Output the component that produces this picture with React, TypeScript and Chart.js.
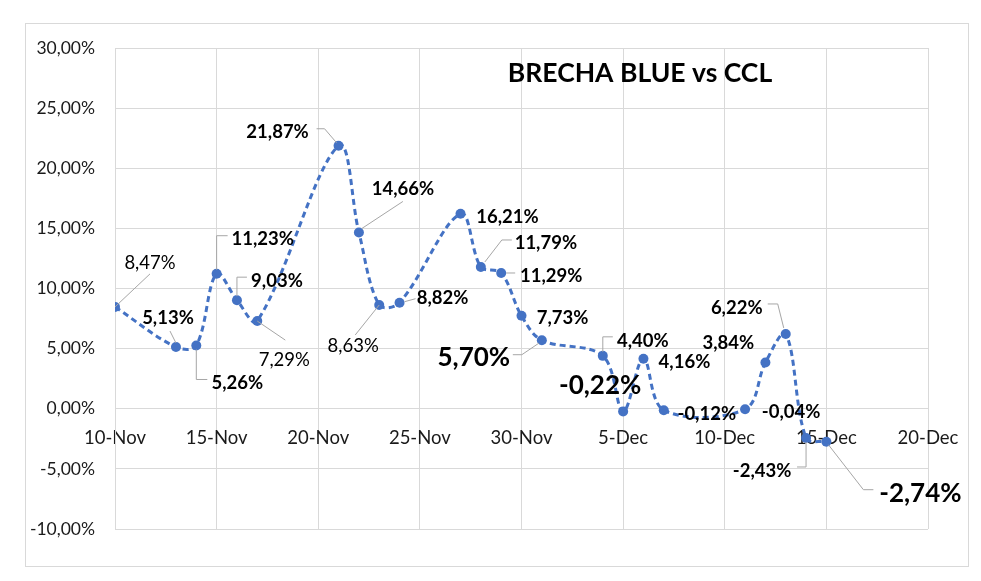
import React, { useEffect, useRef } from 'react';
import { Chart, registerables } from 'chart.js';

Chart.register(...registerables);

// ---- data ----
const dates = [
  '2022-11-10', '2022-11-13', '2022-11-14', '2022-11-15', '2022-11-16', '2022-11-17',
  '2022-11-21', '2022-11-22', '2022-11-23', '2022-11-24', '2022-11-27', '2022-11-28',
  '2022-11-29', '2022-11-30', '2022-12-01', '2022-12-04', '2022-12-05', '2022-12-06',
  '2022-12-07', '2022-12-11', '2022-12-12', '2022-12-13', '2022-12-14', '2022-12-15',
];
const brecha = [
  8.47, 5.13, 5.26, 11.23, 9.03, 7.29,
  21.87, 14.66, 8.63, 8.82, 16.21, 11.79,
  11.29, 7.73, 5.70, 4.40, -0.22, 4.16,
  -0.12, -0.04, 3.84, 6.22, -2.43, -2.74,
];
const xTickLabels = ['10-Nov', '15-Nov', '20-Nov', '25-Nov', '30-Nov', '5-Dec', '10-Dec', '15-Dec', '20-Dec'];
const yMin = -10;
const yMax = 30;
const yStep = 5;
const xStep = 5;
const chartTitle = 'BRECHA BLUE vs CCL';

// label placement (offset of label centre from its point, weight, leader polyline relative to point)
type LabelSpec = { dx: number; dy: number; kind: 'n' | 'b' | 'B'; leader?: number[][] };
const labelLayout: LabelSpec[] = [
  { dx: 35, dy: -45, kind: 'n', leader: [[0, 0], [35, -33]] },
  { dx: -8, dy: -30, kind: 'b', leader: [[0, -4], [-6, -16]] },
  { dx: 41, dy: 37, kind: 'b', leader: [[0, 4], [0, 34], [11, 34]] },
  { dx: 46, dy: -35, kind: 'b', leader: [[0, -4], [0, -38], [11, -38]] },
  { dx: 40, dy: -20, kind: 'b', leader: [[0, -4], [0, -23], [10, -23]] },
  { dx: 27, dy: 38, kind: 'n', leader: [[0, 0], [28, 19]] },
  { dx: -61, dy: -14, kind: 'b', leader: [[-2, -3], [-14, -17], [-22, -17]] },
  { dx: 44, dy: -44, kind: 'b', leader: [[3, -4], [44, -31]] },
  { dx: -26, dy: 40, kind: 'n', leader: [[0, 0], [-24, 30]] },
  { dx: 43, dy: -5, kind: 'b', leader: [[5, -1], [16, -4]] },
  { dx: 47, dy: 3, kind: 'b' },
  { dx: 65, dy: -25, kind: 'b', leader: [[4, -5], [21, -27], [31, -27]] },
  { dx: 50, dy: 2, kind: 'b', leader: [[5, 0], [14, 0]] },
  { dx: 41, dy: 2, kind: 'b' },
  { dx: -68, dy: 16, kind: 'B', leader: [[-3, 3], [-20, 14.5], [-29, 14.5]] },
  { dx: 40, dy: -16, kind: 'b', leader: [[0, -4], [0, -19], [10, -19]] },
  { dx: -23, dy: -27, kind: 'B' },
  { dx: 41, dy: 3, kind: 'b' },
  { dx: 43, dy: 3, kind: 'b' },
  { dx: 46, dy: 2, kind: 'b' },
  { dx: -37, dy: -20, kind: 'b' },
  { dx: -49, dy: -27, kind: 'b', leader: [[-2, -6], [-8, -30], [-18, -30]] },
  { dx: -44, dy: 32, kind: 'b', leader: [[0, 4], [0, 29], [-9, 29]] },
  { dx: 94, dy: 51, kind: 'B', leader: [[2, 3], [37, 48], [47, 48]] },
];

const FONT = 'Lato, "Open Sans", sans-serif';
const fmtPct = (v: number) => v.toFixed(2).replace('.', ',') + '%';
const dayOffset = (d: string) => Math.round((Date.parse(d) - Date.parse(dates[0])) / 86400000);

const framePlugin = {
  id: 'frame',
  beforeDraw(chart: any) {
    const ctx = chart.ctx;
    ctx.save();
    ctx.fillStyle = '#ffffff';
    ctx.fillRect(0, 0, chart.width, chart.height);
    ctx.strokeStyle = '#d9d9d9';
    ctx.lineWidth = 1;
    ctx.strokeRect(25.5, 23.5, 943, 543);
    ctx.restore();
  },
};

const labelsPlugin = {
  id: 'pointLabels',
  afterDatasetsDraw(chart: any) {
    const ctx = chart.ctx;
    const meta = chart.getDatasetMeta(0);
    ctx.save();
    meta.data.forEach((pt: any, i: number) => {
      const L = labelLayout[i];
      if (!L) return;
      const x = pt.x;
      const y = pt.y;
      if (L.leader) {
        ctx.beginPath();
        L.leader.forEach(([lx, ly], j) => {
          if (j === 0) ctx.moveTo(x + lx, y + ly);
          else ctx.lineTo(x + lx, y + ly);
        });
        ctx.strokeStyle = '#a6a6a6';
        ctx.lineWidth = 1;
        ctx.stroke();
      }
      const size = L.kind === 'B' ? 26 : 18.5;
      const weight = L.kind === 'n' ? 'normal' : 'bold';
      ctx.font = `${weight} ${size}px ${FONT}`;
      ctx.fillStyle = '#000000';
      ctx.textAlign = 'center';
      ctx.textBaseline = 'alphabetic';
      ctx.fillText(fmtPct(brecha[i]), x + L.dx, y + L.dy + size * 0.36);
    });
    ctx.restore();
  },
};

const titlePlugin = {
  id: 'innerTitle',
  afterDraw(chart: any) {
    const ctx = chart.ctx;
    ctx.save();
    ctx.font = `bold 26.5px ${FONT}`;
    ctx.fillStyle = '#000000';
    ctx.textAlign = 'center';
    ctx.textBaseline = 'alphabetic';
    ctx.fillText(chartTitle, 640, 82);
    ctx.restore();
  },
};

export default function App() {
  const ref = useRef<HTMLCanvasElement | null>(null);
  useEffect(() => {
    if (!ref.current) return;
    const points = dates.map((d, i) => ({ x: dayOffset(d), y: brecha[i] }));
    const chart = new Chart(ref.current, {
      type: 'line',
      data: {
        datasets: [
          {
            label: chartTitle,
            data: points,
            borderColor: '#4472C4',
            backgroundColor: '#4472C4',
            borderWidth: 3,
            borderDash: [6, 4],
            tension: 0.35,
            pointRadius: 5,
            pointBackgroundColor: '#4472C4',
            pointBorderColor: '#4472C4',
            pointBorderWidth: 0,
            fill: false,
          },
        ],
      },
      options: {
        responsive: false,
        animation: false,
        devicePixelRatio: 1,
        layout: { padding: { left: 0, top: 48, right: 53, bottom: 52 } },
        plugins: {
          legend: { display: false },
          tooltip: { enabled: false },
          title: { display: false },
        },
        scales: {
          x: {
            type: 'linear',
            position: { y: 0 } as any,
            min: 0,
            max: (xTickLabels.length - 1) * xStep,
            grid: { color: '#d9d9d9', lineWidth: 1, drawTicks: false },
            border: { color: '#d9d9d9', width: 1 },
            ticks: {
              stepSize: xStep,
              padding: 18,
              color: '#1a1a1a',
              font: { family: FONT, size: 18.5 },
              maxRotation: 0,
              autoSkip: false,
              callback: (v: any) => xTickLabels[Math.round(Number(v) / xStep)] ?? '',
            },
          },
          y: {
            type: 'linear',
            min: yMin,
            max: yMax,
            afterFit: (scale: any) => {
              scale.width = 115;
            },
            grid: { color: '#d9d9d9', lineWidth: 1, drawTicks: false },
            border: { color: '#d9d9d9', width: 1 },
            ticks: {
              stepSize: yStep,
              padding: 20,
              color: '#1a1a1a',
              font: { family: FONT, size: 17.5 },
              callback: (v: any) => fmtPct(Number(v)),
            },
          },
        },
      },
      plugins: [framePlugin, labelsPlugin, titlePlugin],
    });
    return () => chart.destroy();
  }, []);
  return (
    <div style={{ position: 'fixed', left: 0, top: 0, width: 981, height: 581, background: '#fff' }}>
      <canvas ref={ref} width={981} height={581} style={{ display: 'block' }} />
    </div>
  );
}
